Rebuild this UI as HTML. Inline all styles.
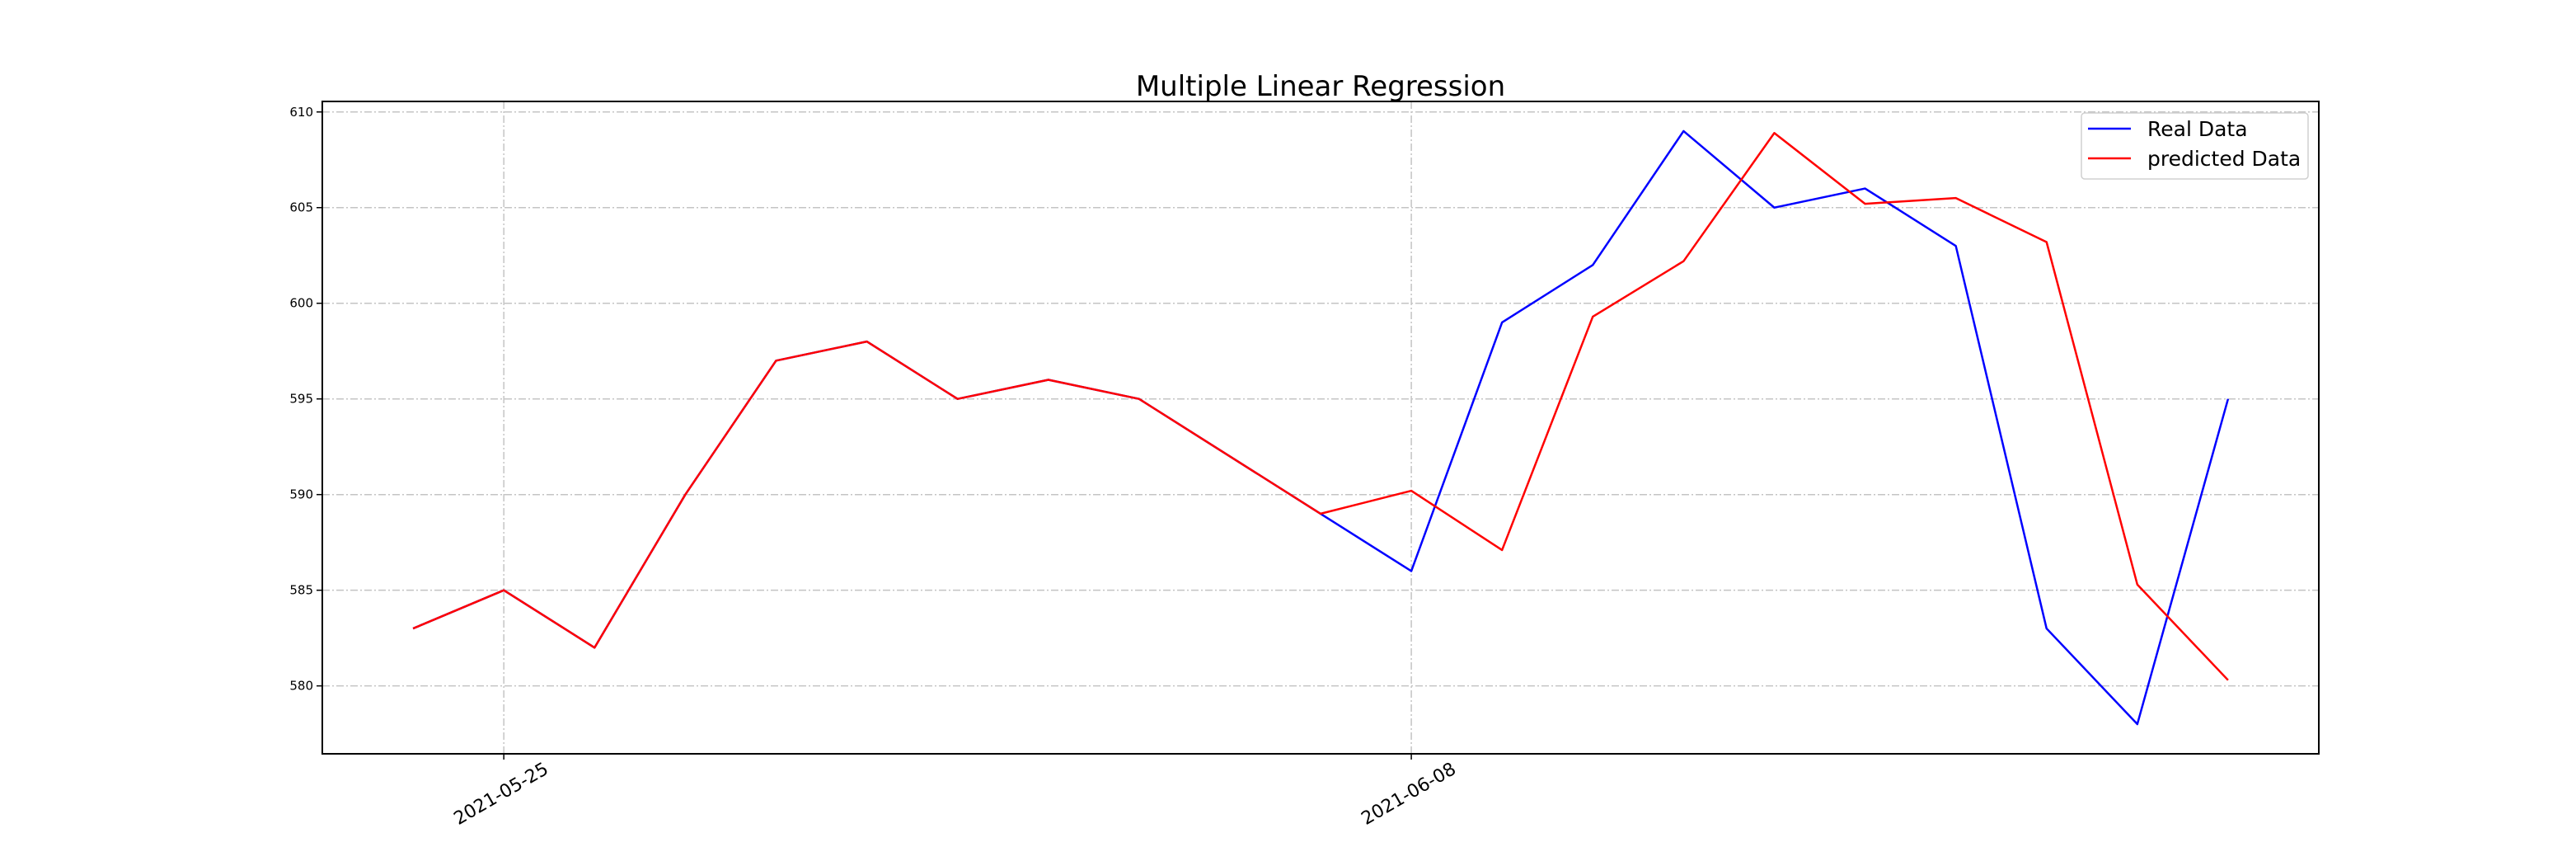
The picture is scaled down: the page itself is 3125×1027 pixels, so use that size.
<!DOCTYPE html>
<html><head><meta charset="utf-8"><style>
html,body{margin:0;padding:0;background:#fff;}
svg{display:block;font-family:"DejaVu Sans","Liberation Sans",sans-serif;}
</style></head><body>
<svg id="chart" width="3125" height="1027" viewBox="0 0 3125 1027">
<rect width="3125" height="1027" fill="#fff"/>
<text x="1602" y="116" font-size="34" text-anchor="middle">Multiple Linear Regression</text>
<g id="grid"></g>
<g id="series"></g>
<rect x="391" y="123" width="2422" height="791" fill="none" stroke="#000" stroke-width="2"/>
<g id="axes"></g>
<g>
<rect x="2525" y="137" width="275" height="80" rx="4" fill="#fff" fill-opacity="0.8" stroke="#d0d0d0" stroke-width="1.5"/>
<line x1="2533" y1="156" x2="2585" y2="156" stroke="#0000ff" stroke-width="2.5"/>
<text x="2605" y="165" font-size="25">Real Data</text>
<line x1="2533" y1="192" x2="2585" y2="192" stroke="#ff0000" stroke-width="2.5"/>
<text x="2605" y="201" font-size="25">predicted Data</text>
</g>
</svg>
<script>
const realValues=[583,585,582,590,597,598,595,596,595,592,589,586,599,602,609,605,606,603,583,578,595];
const predictedValues=[583,585,582,590,597,598,595,596,595,592,589,590.2,587.1,599.3,602.2,608.9,605.2,605.5,603.2,585.3,580.3];
const yTicks=[580,585,590,595,600,605,610];
const xTickIndex=[1,11];
const xTickLabels=["2021-05-25","2021-06-08"];

const NS="http://www.w3.org/2000/svg";
const L=391,R=2813,T=123,B=914;
const xMin=-1,xMax=realValues.length;
const yMin=576.45,yMax=610.55;
function xs(i){return L+(i-xMin)/(xMax-xMin)*(R-L);}
function ys(v){return B-(v-yMin)/(yMax-yMin)*(B-T);}
function mk(tag,attrs,parent){const e=document.createElementNS(NS,tag);for(const k in attrs)e.setAttribute(k,attrs[k]);parent.appendChild(e);return e;}
const grid=document.getElementById('grid'),axes=document.getElementById('axes'),series=document.getElementById('series');
yTicks.forEach(v=>{
  const y=ys(v);
  const g=mk('line',{x1:L,x2:R,y1:y,y2:y,stroke:'#c4c4c4','stroke-width':1.5,'stroke-dasharray':'9 3 2 3'},grid);
  
  
  const t=mk('line',{x1:L-7,x2:L,y1:y,y2:y,stroke:'#000','stroke-width':1.5},axes);
  
  
  const tx=mk('text',{x:L-11,y:y+5,'font-size':15,'text-anchor':'end'},axes);
  tx.textContent=v;
  
  
});
xTickIndex.forEach((i,k)=>{
  const x=xs(i);
  const g=mk('line',{x1:x,x2:x,y1:T,y2:B,stroke:'#c4c4c4','stroke-width':1.5,'stroke-dasharray':'9 3 2 3'},grid);
  
  
  const t=mk('line',{x1:x,x2:x,y1:B,y2:B+7,stroke:'#000','stroke-width':1.5},axes);
  
  
  const tx=mk('text',{x:x-3,y:963,'font-size':22,'text-anchor':'middle','dominant-baseline':'central',transform:`rotate(-30 ${x-3} 963)`},axes);
  tx.textContent=xTickLabels[k];
  
  
});
function line(vals,color,name){
  const p=mk('polyline',{points:vals.map((v,i)=>xs(i)+','+ys(v)).join(' '),fill:'none',stroke:color,'stroke-width':2.5,'stroke-linejoin':'round'},series);
  
  
}
line(realValues,'#0000ff','real-data-line');
line(predictedValues,'#ff0000','predicted-data-line');
</script>
</body></html>
